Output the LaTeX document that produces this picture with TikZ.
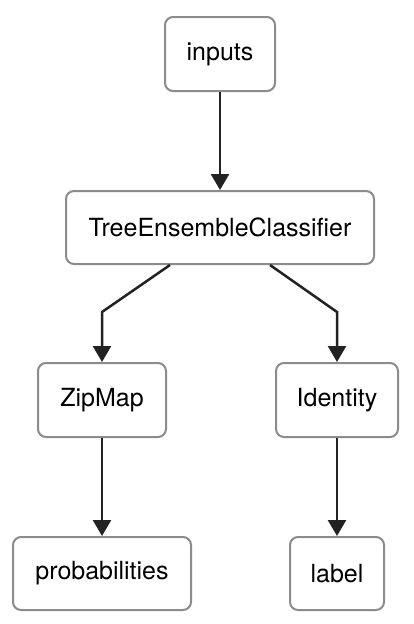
\documentclass[tikz,border=0pt]{standalone}
\usepackage{fontspec}
\setmainfont{TeX Gyre Heros}
\usetikzlibrary{arrows.meta}
\definecolor{boxgray}{HTML}{8C8C8C}
\definecolor{edgedark}{HTML}{222222}
\tikzset{
  opbox/.style={draw=boxgray, line width=2pt, rounded corners=8pt, fill=white,
    inner sep=0pt, font=\fontsize{25}{30}\selectfont, text=black},
  edge/.style={draw=edgedark, line width=2.5pt,
    -{Triangle[length=16pt,width=18pt]}}
}
\begin{document}
\begin{tikzpicture}[x=1pt,y=1pt]
\useasboundingbox[fill=white] (0,0) rectangle (414,-624);
\node[opbox, minimum width=110pt, minimum height=74pt] (inputs) at (220,-54) {inputs};
\node[opbox, minimum width=308pt, minimum height=73pt] (tec) at (220,-227.5) {TreeEnsembleClassifier};
\node[opbox, minimum width=128pt, minimum height=74pt] (zip) at (102,-400) {ZipMap};
\node[opbox, minimum width=122pt, minimum height=74pt] (id) at (337,-400) {Identity};
\node[opbox, minimum width=178pt, minimum height=73pt] (prob) at (102,-573.5) {probabilities};
\node[opbox, minimum width=94pt, minimum height=73pt] (lab) at (337,-573.5) {label};
\draw[edge] (inputs.south) -- (tec.north);
\draw[edge] ([xshift=-50pt]tec.south) -- ([yshift=50pt]zip.north) -- (zip.north);
\draw[edge] ([xshift=50pt]tec.south) -- ([yshift=50pt]id.north) -- (id.north);
\draw[edge] (zip.south) -- (prob.north);
\draw[edge] (id.south) -- (lab.north);
\end{tikzpicture}
\end{document}
